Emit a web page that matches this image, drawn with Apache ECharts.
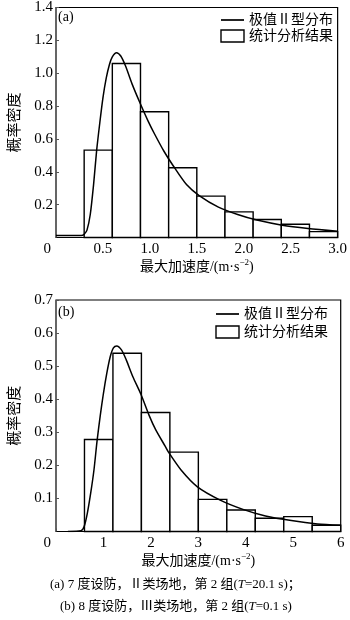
<!DOCTYPE html>
<html><head><meta charset="utf-8">
<script src="https://cdn.jsdelivr.net/npm/echarts@6/dist/echarts.min.js"></script>
<style>html,body{margin:0;padding:0;background:#fff}#c{width:350px;height:620px}</style>
</head><body><div id="c"></div>
<script>
// ---- data ----
const edgesA = [0.3,0.6,0.9,1.2,1.5,1.8,2.1,2.4,2.7,3.0];
const histA  = [0.532,1.059,0.765,0.425,0.252,0.156,0.110,0.081,0.036];
const curveA = [[0,0.012],[0.1,0.012],[0.2,0.012],[0.27,0.012],[0.3,0.02],[0.33,0.045],[0.365,0.14],[0.4,0.32],[0.433,0.53],[0.467,0.70],[0.5,0.85],[0.535,0.97],[0.57,1.055],[0.6,1.10],[0.645,1.125],[0.69,1.105],[0.74,1.045],[0.81,0.935],[0.894,0.82],[0.98,0.71],[1.05,0.63],[1.15,0.525],[1.25,0.435],[1.39,0.322],[1.525,0.255],[1.73,0.185],[1.935,0.14],[2.14,0.106],[2.41,0.075],[2.685,0.055],[3.0,0.038]];
const edgesB = [0.6,1.2,1.8,2.4,3.0,3.6,4.2,4.8,5.4,6.0];
const histB  = [0.278,0.539,0.36,0.24,0.097,0.065,0.04,0.045,0.019];
const curveB = [[0.25,0],[0.525,0.002],[0.593,0.015],[0.66,0.055],[0.73,0.115],[0.80,0.186],[0.866,0.275],[0.934,0.352],[1.0,0.418],[1.07,0.478],[1.14,0.527],[1.21,0.555],[1.28,0.561],[1.38,0.549],[1.48,0.519],[1.62,0.468],[1.79,0.415],[1.96,0.352],[2.1,0.308],[2.3,0.258],[2.37,0.24],[2.64,0.185],[2.98,0.135],[3.46,0.095],[3.94,0.067],[4.415,0.047],[4.96,0.033],[5.51,0.023],[6.0,0.019]];
const nameCurve = '极值Ⅱ型分布';
const nameHist = '统计分析结果';
const yName = '概率密度';
const captionA = '(a) 7 度设防，Ⅱ类场地，第 2 组({i|T}=20.1 s)；';
const captionB = '(b) 8 度设防，Ⅲ类场地，第 2 组({i|T}=0.1 s)';

const FONT = "'Liberation Serif','Noto Sans CJK SC',serif";
function binsData(edges, vals){ return vals.map((v,i)=>[edges[i],edges[i+1],v]); }
function renderBar(params, api){
  const p0 = api.coord([api.value(0), api.value(2)]);
  const p1 = api.coord([api.value(1), 0]);
  return {type:'rect', shape:{x:p0[0], y:p0[1], width:p1[0]-p0[0], height:p1[1]-p0[1]},
    style:{fill:'#fff', stroke:'#000', lineWidth:1.4}};
}
function xAxis(idx, max, interval, fmt){
  return {type:'value', gridIndex:idx, min:0, max:max, interval:interval,
    name:'{a|最大加速度/(m·s}{b|−2}{a|)}', nameLocation:'middle', nameGap:21,
    nameTextStyle:{rich:{a:{fontFamily:FONT,fontSize:14,color:'#000',lineHeight:18},
                         b:{fontFamily:FONT,fontSize:9,color:'#000',lineHeight:18,verticalAlign:'top',padding:[0,0,6,0]}}},
    axisLine:{show:false}, splitLine:{show:false},
    axisTick:{inside:true, length:3, lineStyle:{color:'#555'}},
    axisLabel:{margin:4, color:'#000', fontFamily:FONT, fontSize:15, alignMinLabel:'right',
      formatter: v => v===0 ? '{z|0}' : fmt(v),
      rich:{z:{fontFamily:FONT,fontSize:15,color:'#000',padding:[0,5,0,0]}}}};
}
function yAxis(idx, max, interval){
  return {type:'value', gridIndex:idx, min:0, max:max, interval:interval,
    name:yName, nameLocation:'middle', nameGap:33, nameRotate:90,
    nameTextStyle:{fontFamily:FONT, fontSize:15, color:'#000'},
    axisLine:{show:false}, splitLine:{show:false},
    axisTick:{inside:true, length:3, lineStyle:{color:'#555'}},
    axisLabel:{margin:3, color:'#000', fontFamily:FONT, fontSize:15, showMinLabel:false,
      formatter: v => v.toFixed(1)}};
}
function legend(top, right, gap){
  return {orient:'vertical', top:top, right:right, itemGap:gap, itemWidth:23, itemHeight:12, padding:0,
    textStyle:{fontFamily:FONT, fontSize:14, color:'#000'}, selectedMode:false,
    data:[{name:nameCurve, icon:'path://M1,0L21,0L21,1.5L1,1.5Z'},
          {name:nameHist, icon:'rect', itemStyle:{color:'#fff',borderColor:'#000',borderWidth:1.4}}]};
}
const chart = echarts.init(document.getElementById('c'));
chart.setOption({
  animation:false, backgroundColor:'#fff',
  title:[
    {text:'(a)', left:53, top:5, textStyle:{fontFamily:FONT,fontSize:14,fontWeight:'normal',color:'#000'}},
    {text:'(b)', left:53, top:300, textStyle:{fontFamily:FONT,fontSize:14,fontWeight:'normal',color:'#000'}},
    {text:captionA, left:45, top:573, textStyle:{fontFamily:FONT,fontSize:13,fontWeight:'normal',color:'#000',
      rich:{i:{fontFamily:FONT,fontSize:13,fontStyle:'italic',color:'#000'}}}},
    {text:captionB, left:55, top:595, textStyle:{fontFamily:FONT,fontSize:13,fontWeight:'normal',color:'#000',
      rich:{i:{fontFamily:FONT,fontSize:13,fontStyle:'italic',color:'#000'}}}}
  ],
  legend:[legend(13,17,2), legend(307,22,4)],
  grid:[
    {left:47.7, top:5.5, width:293, height:232, show:true, borderColor:'#000', borderWidth:1.2, backgroundColor:'transparent'},
    {left:47.7, top:300, width:293, height:231.5, show:true, borderColor:'#000', borderWidth:1.2, backgroundColor:'transparent'}
  ],
  xAxis:[xAxis(0,3,0.5,v=>v.toFixed(1)), xAxis(1,6,1,v=>String(v))],
  yAxis:[yAxis(0,1.4,0.2), yAxis(1,0.7,0.1)],
  series:[
    {name:nameHist, type:'custom', xAxisIndex:0, yAxisIndex:0, renderItem:renderBar, encode:{x:[0,1],y:2}, data:binsData(edgesA,histA), z:2},
    {name:nameCurve, type:'line', xAxisIndex:0, yAxisIndex:0, data:curveA, symbol:'none', smooth:0.25, lineStyle:{color:'#000',width:1.5}, itemStyle:{color:'#000'}, z:3},
    {name:nameHist, type:'custom', xAxisIndex:1, yAxisIndex:1, renderItem:renderBar, encode:{x:[0,1],y:2}, data:binsData(edgesB,histB), z:2},
    {name:nameCurve, type:'line', xAxisIndex:1, yAxisIndex:1, data:curveB, symbol:'none', smooth:0.25, lineStyle:{color:'#000',width:1.5}, itemStyle:{color:'#000'}, z:3}
  ]
});
</script></body></html>
